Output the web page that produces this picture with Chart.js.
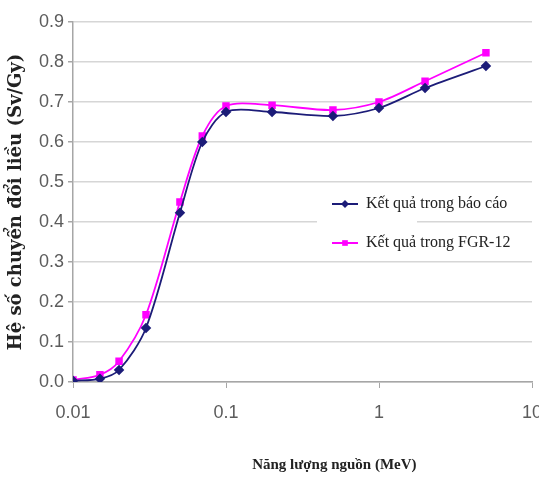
<!DOCTYPE html>
<html>
<head>
<meta charset="utf-8">
<script src="https://cdn.jsdelivr.net/npm/chart.js@4.4.0/dist/chart.umd.min.js"></script>
<style>
  body { margin: 0; background: #fff; }
  #wrap { width: 539px; height: 478px; }
</style>
</head>
<body>
<div id="wrap"><canvas id="grafica"></canvas></div>
<script>
const $grafica = document.querySelector("#grafica");

// Năng lượng nguồn (MeV)
const nangLuong = [0.01, 0.015, 0.02, 0.03, 0.05, 0.07, 0.1, 0.2, 0.5, 1, 2, 5];
// Hệ số chuyển đổi liều (Sv/Gy)
const ketQuaBaoCao = [0.003, 0.008, 0.030, 0.135, 0.423, 0.600, 0.675, 0.675, 0.665, 0.685, 0.735, 0.790];
const ketQuaFGR12 = [0.005, 0.018, 0.052, 0.168, 0.450, 0.615, 0.690, 0.692, 0.680, 0.700, 0.752, 0.823];

const tenSeries = ["Kết quả trong báo cáo", "Kết quả trong FGR-12"];
const ticksX = [0.01, 0.1, 1, 10];
const ticksY = [0, 0.1, 0.2, 0.3, 0.4, 0.5, 0.6, 0.7, 0.8, 0.9];

const aPuntos = (ys) => nangLuong.map((x, i) => ({ x: x, y: ys[i] }));

const fuenteEje = "'Liberation Sans Narrow', 'Arial Narrow', 'Liberation Sans', sans-serif";

// leyenda dentro del área del gráfico
const leyenda = {
    id: 'leyenda',
    afterDraw(chart) {
        const ctx = chart.ctx;
        ctx.save();
        ctx.fillStyle = '#fff';
        ctx.fillRect(317, 188, 100, 68);
        chart.data.datasets.forEach((ds, i) => {
            const y = 204 + i * 39;
            ctx.strokeStyle = ds.borderColor;
            ctx.lineWidth = 2;
            ctx.beginPath();
            ctx.moveTo(332, y);
            ctx.lineTo(358, y);
            ctx.stroke();
            ctx.fillStyle = ds.pointBackgroundColor;
            Chart.helpers.drawPoint(ctx, {
                pointStyle: ds.pointStyle, radius: ds.pointRadius, rotation: 0, borderWidth: 0
            }, 345, y);
            ctx.fillStyle = '#222';
            ctx.font = "16px 'Liberation Serif', serif";
            ctx.textBaseline = 'middle';
            ctx.fillText(ds.label, 366, y);
        });
        ctx.restore();
    }
};

new Chart($grafica, {
    type: 'line',
    data: {
        datasets: [
            {
                label: tenSeries[0],
                data: aPuntos(ketQuaBaoCao),
                borderColor: '#1c1c78',
                backgroundColor: '#1c1c78',
                pointBackgroundColor: '#1c1c78',
                pointBorderColor: '#1c1c78',
                pointStyle: 'rectRot',
                pointRadius: 4,
                borderWidth: 1.8,
                tension: 0.3,
                fill: false,
            },
            {
                label: tenSeries[1],
                data: aPuntos(ketQuaFGR12),
                borderColor: '#ff00ff',
                backgroundColor: '#ff00ff',
                pointBackgroundColor: '#ff00ff',
                pointBorderColor: '#ff00ff',
                pointStyle: 'rect',
                pointRadius: 4,
                borderWidth: 1.8,
                tension: 0.3,
                fill: false,
            }
        ]
    },
    options: {
        responsive: true,
        maintainAspectRatio: false,
        animation: false,
        layout: { padding: { top: 22, right: 7, left: 0, bottom: 0 } },
        plugins: {
            legend: { display: false },
            tooltip: { enabled: false }
        },
        scales: {
            x: {
                type: 'logarithmic',
                min: 0.01,
                max: 10,
                afterBuildTicks: (s) => { s.ticks = ticksX.map(v => ({ value: v })); },
                afterFit: (s) => { s.height = 96; s.paddingLeft = 0; s.paddingRight = 0; },
                ticks: {
                    callback: (v) => String(v),
                    color: '#5c5c5c',
                    font: { family: fuenteEje, size: 18 },
                    padding: 14,
                    maxRotation: 0,
                    autoSkip: false
                },
                grid: {
                    display: true,
                    drawOnChartArea: false,
                    drawTicks: true,
                    tickLength: 6,
                    color: '#a6a6a6'
                },
                border: { color: '#a6a6a6', width: 1.5 },
                title: {
                    display: true,
                    text: '                 Năng lượng nguồn (MeV)',
                    color: '#222',
                    font: { family: "'Liberation Serif', serif", size: 15, weight: 'bold' },
                    padding: { top: 0, bottom: 4 }
                }
            },
            y: {
                min: 0,
                max: 0.9,
                afterBuildTicks: (s) => { s.ticks = ticksY.map(v => ({ value: v })); },
                afterFit: (s) => { s.width = 73; s.paddingTop = 0; s.paddingBottom = 0; },
                ticks: {
                    callback: (v) => v.toFixed(1),
                    color: '#5c5c5c',
                    font: { family: fuenteEje, size: 18 },
                    padding: 4
                },
                grid: {
                    color: '#d6d6d6',
                    lineWidth: 1.5,
                    tickLength: 5,
                    tickColor: '#a6a6a6'
                },
                border: { color: '#a6a6a6', width: 1.5 },
                title: {
                    display: true,
                    text: 'Hệ số chuyển đổi liều (Sv/Gy)',
                    color: '#222',
                    font: { family: "'DejaVu Serif', serif", size: 18, weight: 'bold' },
                    padding: { top: 6, bottom: 0 }
                }
            }
        }
    },
    plugins: [leyenda]
});
</script>
</body>
</html>
